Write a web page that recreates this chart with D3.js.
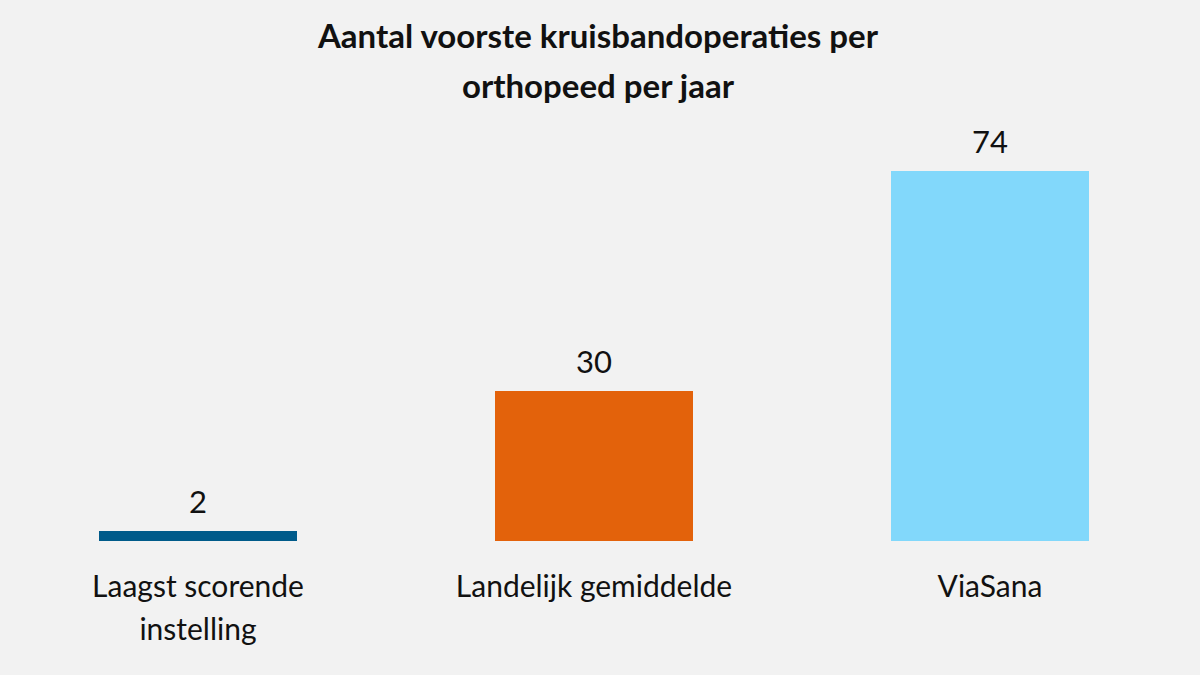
<!DOCTYPE html>
<html><head><meta charset="utf-8">
<script src="https://cdn.jsdelivr.net/npm/d3@7.9.0/dist/d3.min.js"></script>
<style>body{margin:0;background:#f2f2f2}svg{display:block}</style>
</head><body><svg id="chart"></svg>
<script>
const categories = [['Laagst scorende', 'instelling'], ['Landelijk gemiddelde'], ['ViaSana']];
const values = [2, 30, 74];
const colors = ['#005b8a', '#e3620b', '#82d8fb'];
const titleLines = ['Aantal voorste kruisbandoperaties per', 'orthopeed per jaar'];

const width = 1200, height = 675;
const margin = { top: 171, right: 12, bottom: 134, left: 0 };
const svg = d3.select('#chart').attr('width', width).attr('height', height);
svg.append('rect').attr('width', width).attr('height', height).attr('fill', '#f2f2f2');

const x = d3.scaleBand().domain(d3.range(values.length))
  .range([0, 1188]).paddingInner(0.5).paddingOuter(0.25);
const y = d3.scaleLinear().domain([0, 74]).range([height - margin.bottom, margin.top]);

svg.append('text').attr('x', 598).attr('y', 48).attr('text-anchor', 'middle')
  .attr('font-family', 'Lato').attr('font-weight', 'bold').attr('font-size', 33).attr('fill', '#111')
  .selectAll('tspan').data(titleLines).join('tspan')
  .attr('x', 598).attr('dy', (d, i) => i ? 50 : 0).text(d => d);

svg.selectAll('rect.bar').data(values).join('rect').attr('class', 'bar')
  .attr('x', (d, i) => x(i)).attr('width', x.bandwidth())
  .attr('y', d => y(d)).attr('height', d => y(0) - y(d))
  .attr('fill', (d, i) => colors[i]);

svg.selectAll('text.val').data(values).join('text').attr('class', 'val')
  .attr('x', (d, i) => x(i) + x.bandwidth() / 2).attr('y', d => y(d) - 18)
  .attr('text-anchor', 'middle').attr('font-family', 'Lato').attr('font-size', 31).attr('fill', '#111')
  .text(d => d);

const cat = svg.selectAll('text.cat').data(categories).join('text').attr('class', 'cat')
  .attr('text-anchor', 'middle').attr('font-family', 'Lato').attr('font-size', 30).attr('fill', '#111')
  .attr('y', 597);
cat.selectAll('tspan').data((d, i) => d.map(t => ({ t, i }))).join('tspan')
  .attr('x', d => x(d.i) + x.bandwidth() / 2).attr('dy', (d, j) => j ? 43 : 0).text(d => d.t);
</script></body></html>
